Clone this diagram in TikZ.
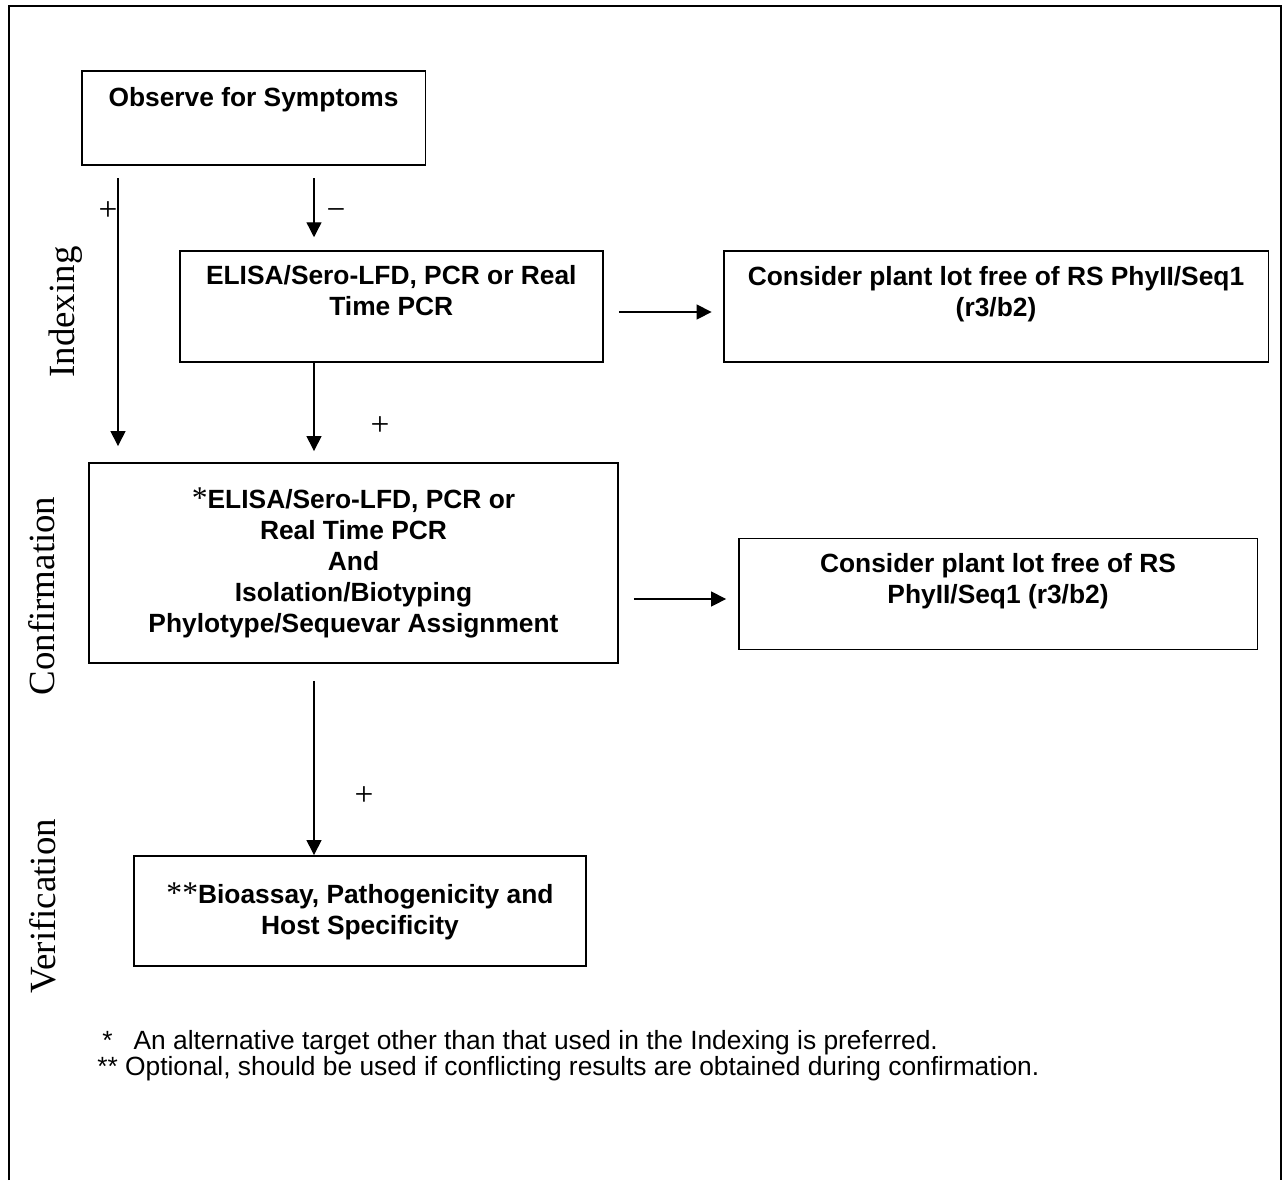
\documentclass[tikz,border=0pt]{standalone}
\usepackage{fontspec}
\setmainfont{Liberation Sans}
\newfontfamily\sidefont{Liberation Serif}
\usetikzlibrary{arrows.meta}
\pgfdeclarelayer{edgelayer}
\pgfdeclarelayer{nodelayer}
\pgfsetlayers{edgelayer,nodelayer,main}
\tikzstyle{stage}=[rectangle,draw=black,line width=1.1pt,align=center,inner sep=0pt,font=\fontsize{15}{17.6}\selectfont\bfseries]
\tikzstyle{flow}=[-{Triangle[length=8.5pt,width=8.5pt]},draw=black,line width=0.75pt]
\tikzstyle{phase}=[rotate=90,anchor=base,inner sep=0pt,font=\fontsize{21}{25}\sidefont]
\tikzstyle{sign}=[inner sep=0pt,font=\fontsize{19}{22}\sidefont]
\tikzstyle{note}=[anchor=base west,inner sep=0pt,font=\fontsize{15}{18}\selectfont]
\newcommand{\starmark}[1]{{\fontsize{18}{17.6}\sidefont\mdseries #1}}

\begin{document}
\begin{tikzpicture}[x=0.02cm,y=-0.02cm]
	\useasboundingbox (0,0) rectangle (1283,1180);
	\draw [line width=1.1pt] (9,1180) -- (9,6) -- (1281,6) -- (1281,1180);
	\coordinate (lane) at (118,0);
	\coordinate (spine) at (314,0);
	\coordinate (rowa) at (0,312);
	\coordinate (rowb) at (0,599);
	\begin{pgfonlayer}{nodelayer}
		\node [style=stage, minimum width=6.88cm, minimum height=1.89cm] (0) at (253.5,118) {Observe for Symptoms\\[6pt]~};
		\node [style=stage, minimum width=8.47cm, minimum height=2.22cm] (1) at (391.3,306.2) {ELISA/Sero-LFD, PCR or Real\\Time PCR\\~};
		\node [style=stage, minimum width=10.9cm, minimum height=2.22cm] (2) at (996,306.5) {Consider plant lot free of RS PhyII/Seq1\\(r3/b2)\\~};
		\node [style=stage, minimum width=10.58cm, minimum height=4cm] (3) at (353.5,563) {\starmark{*}ELISA/Sero-LFD, PCR or\\Real Time PCR\\And\\Isolation/Biotyping\\Phylotype/Sequevar Assignment};
		\node [style=stage, minimum width=10.38cm, minimum height=2.22cm] (4) at (998,594) {Consider plant lot free of RS\\PhyII/Seq1 (r3/b2)\\~};
		\node [style=stage, minimum width=9.04cm, minimum height=2.2cm] (5) at (360,911) {\starmark{**}Bioassay, Pathogenicity and\\Host Specificity};
		\node [style=phase] (6) at (74,312) {Indexing};
		\node [style=phase] (7) at (54,596) {Confirmation};
		\node [style=phase] (8) at (55,906) {Verification};
		\node [style=note] (9) at (102,1049) {*\hspace{0.42cm}An alternative target other than that used in the Indexing is preferred.};
		\node [style=note] (10) at (97,1075) {** Optional, should be used if conflicting results are obtained during confirmation.};
	\end{pgfonlayer}
	\begin{pgfonlayer}{edgelayer}
		\draw [style=flow, shorten <=0.24cm, shorten >=0.32cm] (0.south -| lane) to node[style=sign, pos=0.15, xshift=-0.2cm]{+} (3.north -| lane);
		\draw [style=flow, shorten <=0.24cm, shorten >=0.25cm] (0.south -| spine) to node[style=sign, pos=0.58, xshift=0.44cm]{−} (1.north -| spine);
		\draw [style=flow, shorten >=0.22cm] (1.south -| spine) to node[style=sign, pos=0.64, xshift=1.32cm]{+} (3.north -| spine);
		\draw [style=flow, shorten <=0.34cm] (3.south -| spine) to node[style=sign, pos=0.69, xshift=1cm]{+} (5.north -| spine);
		\draw [style=flow, shorten <=0.3cm, shorten >=0.22cm] (1.east |- rowa) to (2.west |- rowa);
		\draw [style=flow, shorten <=0.3cm, shorten >=0.23cm] (3.east |- rowb) to (4.west |- rowb);
	\end{pgfonlayer}
\end{tikzpicture}
\end{document}
